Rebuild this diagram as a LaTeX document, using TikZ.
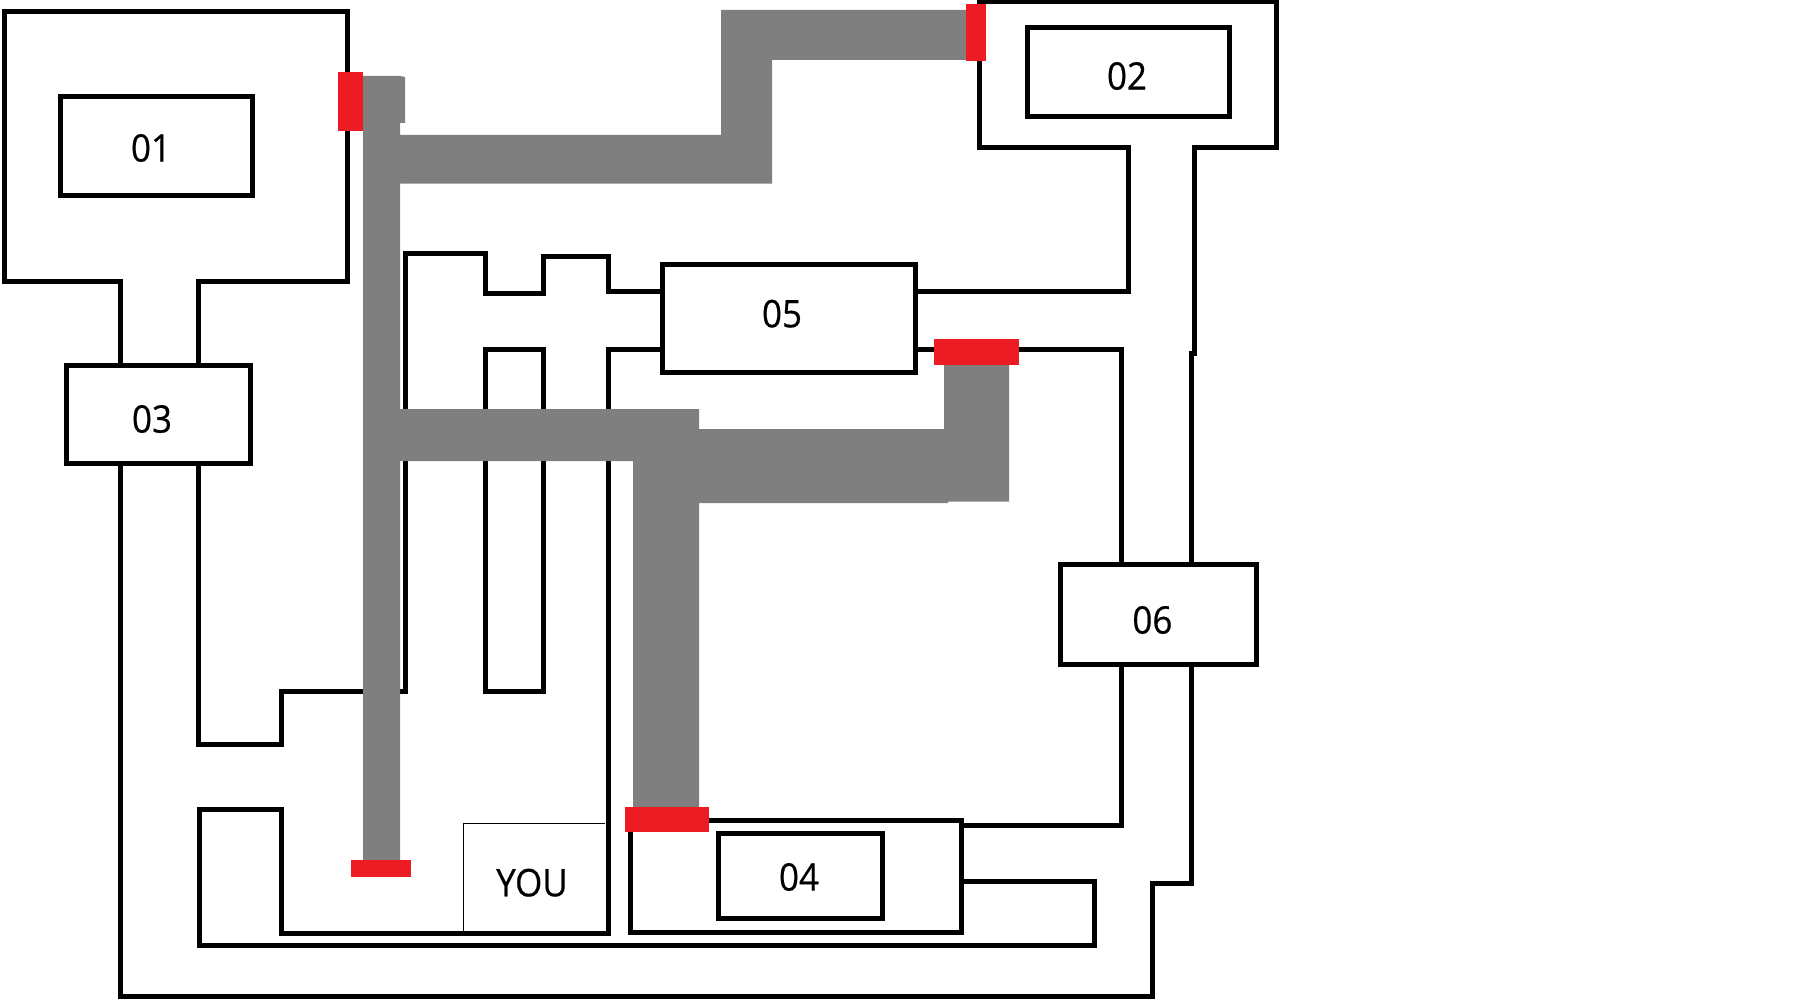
\documentclass[tikz,border=0pt]{standalone}
\usepackage{fontspec}
\setmainfont[FakeStretch=0.92,FakeBold=0.5]{Open Sans}
\definecolor{walkgray}{HTML}{7F7F7F}
\definecolor{doorred}{HTML}{ED1C24}
\tikzset{
  wall/.style={draw=black,line width=5pt,line join=miter,line cap=butt},
  route/.style={fill=walkgray,draw=none},
  door/.style={fill=doorred,draw=none},
  label/.style={inner sep=0pt,font=\fontsize{38}{38}\selectfont,text=black},
}
\begin{document}
\begin{tikzpicture}[x=1pt,y=-1pt]
\useasboundingbox (0,0) rectangle (1812,1000);
% outer walls
\draw[wall] (120.5,365) -- (120.5,281.7) -- (4.5,281.7) -- (4.5,11.3) -- (347.3,11.3) -- (347.3,281.7) -- (198,281.7) -- (198,365);
\draw[wall] (120.5,464) -- (120.5,996.7) -- (1152.7,996.7) -- (1152.7,883.3) -- (1191.5,883.3) -- (1191.5,664);
\draw[wall] (1191.5,564) -- (1191.5,353) -- (1194,353) -- (1194,147.3) -- (1276.3,147.3) -- (1276.3,1.7) -- (979.5,1.7) -- (979.5,147.3) -- (1128.6,147.3) -- (1128.6,291.5) -- (915,291.5);
\draw[wall] (915,349.3) -- (1121.4,349.3) -- (1121.4,564);
\draw[wall] (1121.4,664) -- (1121.4,825.3) -- (962.5,825.3);
\draw[wall] (198,464) -- (198,744.3) -- (281.7,744.3) -- (281.7,691.3) -- (405.4,691.3) -- (405.4,253.7) -- (485.3,253.7) -- (485.3,293.3) -- (543.3,293.3) -- (543.3,256.3) -- (608.5,256.3) -- (608.5,291.5) -- (662.5,291.5);
\draw[wall] (662.5,349.3) -- (608.5,349.3) -- (608.5,692.7) -- (608,692.7) -- (608,933.3) -- (281.7,933.3) -- (281.7,809.7) -- (199.6,809.7) -- (199.6,945.3) -- (1094.6,945.3) -- (1094.6,881.3) -- (962.5,881.3);
\draw[wall] (485.3,349.3) rectangle (543.3,691.3);
% rooms
\draw[wall] (60.7,96.3) rectangle (252.7,195.3);
\draw[wall] (1027.7,27.3) rectangle (1229.5,116.3);
\draw[wall] (66.5,365.7) rectangle (250.4,463.7);
\draw[wall] (630.5,820.3) rectangle (961.6,932.3);
\draw[wall] (718,833.3) rectangle (882.5,918.3);
\draw[wall] (662.5,264.3) rectangle (915.5,372.3);
\draw[wall] (1060.7,564) rectangle (1256.3,664.3);
\draw[black,line width=1pt] (463.4,933) -- (463.4,823.3) -- (605.4,823.3);
% routes
\fill[route] (363,76) -- (400,76) -- (405,77) -- (405,123) -- (400,123) -- (400,135) -- (721,135) -- (721,10) -- (966,10) -- (966,60) -- (772,60) -- (772,183.7) -- (400,183.7) -- (400,409) -- (699,409) -- (699,429) -- (944,429) -- (944,365) -- (1009,365) -- (1009,501.7) -- (948,501.7) -- (948,503) -- (699,503) -- (699,807) -- (633,807) -- (633,461) -- (400,461) -- (400,860) -- (363,860) -- cycle;
% doors
\fill[door] (338,72) rectangle (363,131);
\fill[door] (966,4) rectangle (986,61);
\fill[door] (934,339) rectangle (1019,365);
\fill[door] (625,807) rectangle (709,832);
\fill[door] (351,860) rectangle (411,877);
% labels
\node[label] (n01) at (151,148) {01};
\node[label] (n02) at (1127,76) {02};
\node[label] (n03) at (152,419) {03};
\node[label] (n04) at (799,877) {04};
\node[label] (n05) at (782,313.7) {05};
\node[label] (n06) at (1152.4,620) {06};
\node[label] (you) at (532,882.7) {YOU};
\end{tikzpicture}
\end{document}
